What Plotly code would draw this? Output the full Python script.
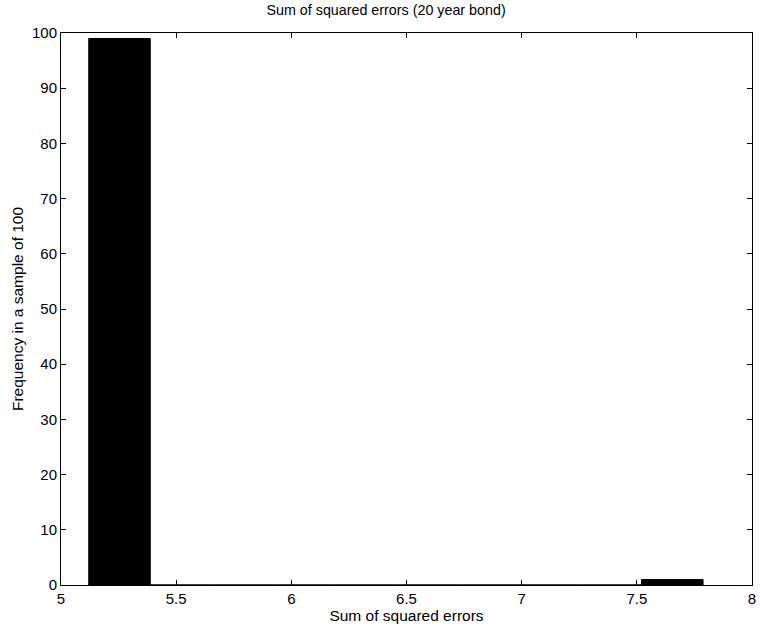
import plotly.graph_objects as go

bin_centers = [5.254, 5.521, 5.788, 6.055, 6.322, 6.589, 6.856, 7.123, 7.390, 7.654]
counts = [99, 0, 0, 0, 0, 0, 0, 0, 0, 1]
bin_width = 0.267

fig = go.Figure()
fig.add_trace(go.Bar(x=bin_centers, y=counts, width=bin_width,
                     marker=dict(color="black", line=dict(color="black", width=1))))

family = "Liberation Sans, Arial, sans-serif"
tickfont = dict(family=family, size=15, color="black")
labelfont = dict(family=family, size=15.5, color="black")
titlefont = dict(family=family, size=14.3, color="black")
axis_common = dict(showgrid=False, zeroline=False, showline=True, linecolor="black",
                   linewidth=1, mirror="ticks", ticks="inside", ticklen=5,
                   tickcolor="black", tickfont=tickfont, ticklabeloverflow="allow")
fig.update_layout(
    width=760, height=628,
    margin=dict(l=61, r=4, t=33, b=43),
    paper_bgcolor="white", plot_bgcolor="white",
    showlegend=False, font=tickfont,
    title=dict(text="Sum of squared errors (20 year bond)", x=0.508, xanchor="center",
               y=0.992, yanchor="top", font=titlefont),
    xaxis=dict(range=[5, 8], dtick=0.5, tick0=5,
               title=dict(text="Sum of squared errors", font=labelfont, standoff=2), **axis_common),
    yaxis=dict(range=[0, 100], dtick=10, tick0=0,
               title=dict(text="Frequency in a sample of 100", font=labelfont, standoff=4), **axis_common),
)
fig.write_html("out.html")
